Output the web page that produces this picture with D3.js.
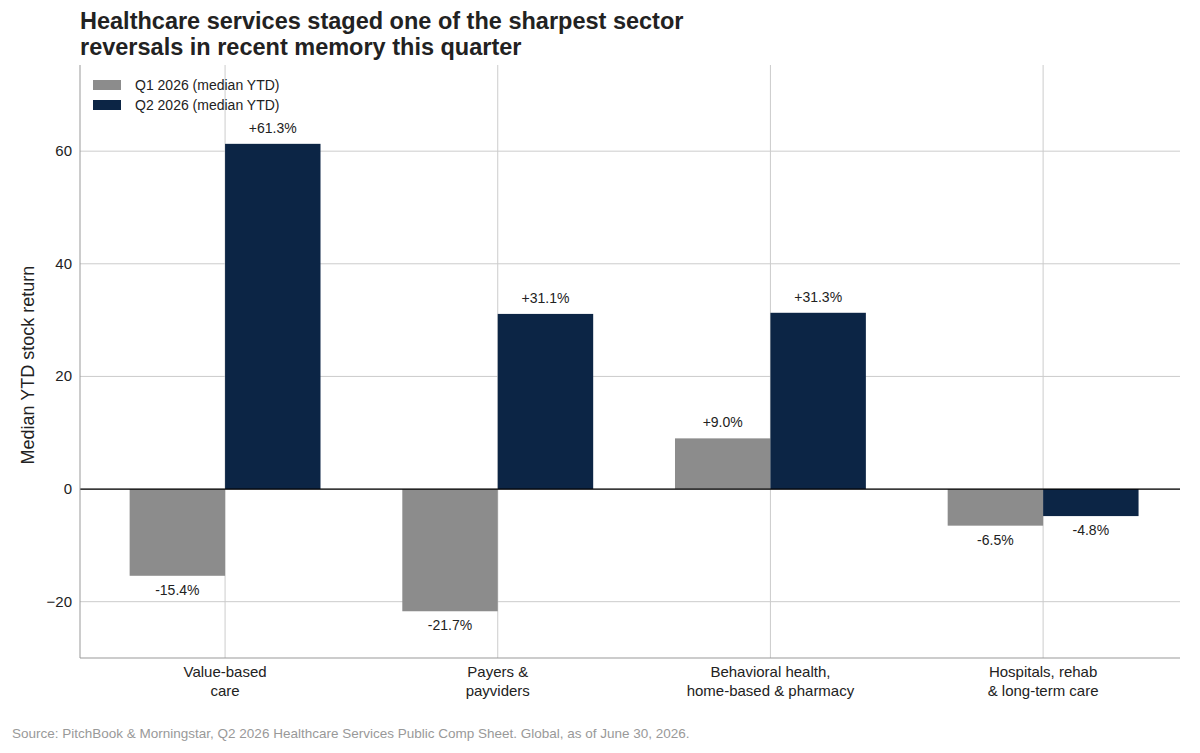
<!DOCTYPE html>
<html><head><meta charset="utf-8">
<script src="https://cdn.jsdelivr.net/npm/d3@7"></script>
<style>body{margin:0;background:#fff;font-family:"Liberation Sans",Arial,sans-serif;}</style>
</head><body>
<script>
// data
var categories = ["Value-based\ncare", "Payers &\npayviders", "Behavioral health,\nhome-based & pharmacy", "Hospitals, rehab\n& long-term care"];
var q1 = [-15.4, -21.7, 9.0, -6.5];
var q2 = [61.3, 31.1, 31.3, -4.8];
var seriesNames = ["Q1 2026 (median YTD)", "Q2 2026 (median YTD)"];
var yTicks = [-20, 0, 20, 40, 60];

var W = 1200, H = 753;
var pLeft = 80, pRight = 1180, pTop = 65, pBottom = 658;

var svg = d3.select("body").append("svg").attr("width", W).attr("height", H);

var x = d3.scaleLinear().domain([-0.532, 3.502]).range([pLeft, pRight]);
var y = d3.scaleLinear().domain([-30, 75.3]).range([pBottom, pTop]);
var bw = 0.35;

//gridlines
svg.selectAll(".vg").data(categories).enter().append("line")
    .attr("x1", (d, i) => x(i)).attr("x2", (d, i) => x(i))
    .attr("y1", pTop).attr("y2", pBottom)
    .attr("stroke", "#cccccc").attr("stroke-width", 1);
svg.selectAll(".hg").data(yTicks).enter().append("line")
    .attr("x1", pLeft).attr("x2", pRight)
    .attr("y1", d => y(d)).attr("y2", d => y(d))
    .attr("stroke", "#cccccc").attr("stroke-width", 1);

//bars
var series = [{vals: q1, off: -bw / 2, color: "#8c8c8c"}, {vals: q2, off: bw / 2, color: "#0c2545"}];
series.forEach(s => {
    svg.selectAll(null).data(s.vals).enter().append("rect")
        .attr("x", (d, i) => x(i + s.off - bw / 2))
        .attr("width", x(bw) - x(0))
        .attr("y", d => y(Math.max(0, d)))
        .attr("height", d => Math.abs(y(d) - y(0)))
        .attr("fill", s.color);
    svg.selectAll(null).data(s.vals).enter().append("text")
        .attr("x", (d, i) => x(i + s.off))
        .attr("y", d => d >= 0 ? y(d) - 11 : y(d) + 19)
        .attr("text-anchor", "middle").attr("font-size", 14).attr("fill", "#222")
        .text(d => (d >= 0 ? "+" : "") + d.toFixed(1) + "%");
});

//zero line
svg.append("line").attr("x1", pLeft).attr("x2", pRight)
    .attr("y1", y(0)).attr("y2", y(0)).attr("stroke", "#000").attr("stroke-width", 1.2);

//spines
svg.append("line").attr("x1", pLeft).attr("x2", pLeft).attr("y1", pTop).attr("y2", pBottom).attr("stroke", "#999");
svg.append("line").attr("x1", pLeft).attr("x2", pRight).attr("y1", pBottom).attr("y2", pBottom).attr("stroke", "#999");

//y ticks
svg.selectAll(".yt").data(yTicks).enter().append("text")
    .attr("x", pLeft - 8).attr("y", d => y(d) + 5)
    .attr("text-anchor", "end").attr("font-size", 15).attr("fill", "#222")
    .text(d => d < 0 ? "\u2212" + Math.abs(d) : d);

//x labels
categories.forEach((c, i) => {
    var t = svg.append("text").attr("x", x(i)).attr("y", 677)
        .attr("text-anchor", "middle").attr("font-size", 15).attr("fill", "#222");
    c.split("\n").forEach((ln, j) => {
        t.append("tspan").attr("x", x(i)).attr("dy", j ? 19 : 0).text(ln);
    });
});

//y label
svg.append("text").attr("transform", "translate(34," + y(22) + ") rotate(-90)")
    .attr("text-anchor", "middle").attr("font-size", 18).attr("fill", "#222")
    .text("Median YTD stock return");

//title
svg.append("text").attr("x", 80).attr("y", 29).attr("font-size", 23.5).attr("font-weight", "bold").attr("fill", "#222")
    .text("Healthcare services staged one of the sharpest sector");
svg.append("text").attr("x", 80).attr("y", 55).attr("font-size", 23.5).attr("font-weight", "bold").attr("fill", "#222")
    .text("reversals in recent memory this quarter");

//legend
seriesNames.forEach((n, i) => {
    svg.append("rect").attr("x", 93).attr("y", 80 + i * 20).attr("width", 28).attr("height", 10)
        .attr("fill", series[i].color);
    svg.append("text").attr("x", 135).attr("y", 90 + i * 20).attr("font-size", 14).attr("fill", "#222").text(n);
});

//source
svg.append("text").attr("x", 12).attr("y", 738).attr("font-size", 13.5).attr("fill", "#999")
    .text("Source: PitchBook & Morningstar, Q2 2026 Healthcare Services Public Comp Sheet. Global, as of June 30, 2026.");
</script>
</body></html>
